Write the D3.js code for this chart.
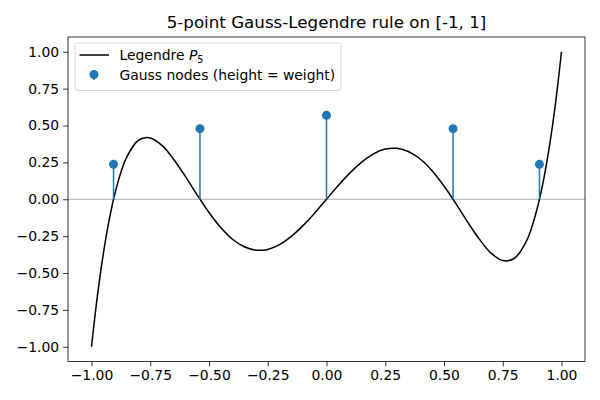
<!DOCTYPE html>
<html>
<head>
<meta charset="utf-8">
<script src="https://cdn.jsdelivr.net/npm/d3@7"></script>
<style>
  body { margin: 0; background: #fff; }
  text { font-family: "DejaVu Sans", sans-serif; }
</style>
</head>
<body>
<div id="chart"></div>
<script>
    // Legendre P5 curve
    const curveX = [-1, -0.975, -0.95, -0.925, -0.9, -0.875, -0.85, -0.8, -0.75, -0.7, -0.65, -0.6,
        -0.55, -0.5, -0.45, -0.4, -0.35, -0.3, -0.25, -0.2, -0.15, -0.1, -0.05, 0,
        0.05, 0.1, 0.15, 0.2, 0.25, 0.3, 0.35, 0.4, 0.45, 0.5, 0.55, 0.6, 0.65, 0.7,
        0.75, 0.8, 0.85, 0.875, 0.9, 0.925, 0.95, 0.975, 1]
    const curveY = [-1, -0.657, -0.373, -0.142, 0.041, 0.182, 0.286, 0.400, 0.416, 0.365, 0.270, 0.153,
        0.028, -0.090, -0.192, -0.271, -0.322, -0.345, -0.340, -0.308, -0.252, -0.179, -0.093, 0,
        0.093, 0.179, 0.252, 0.308, 0.340, 0.345, 0.322, 0.271, 0.192, 0.090, -0.028, -0.153, -0.270, -0.365,
        -0.416, -0.400, -0.286, -0.182, -0.041, 0.142, 0.373, 0.657, 1]

    // Gauss nodes and weights
    const nodes = [-0.9062, -0.5385, 0, 0.5385, 0.9062]
    const weights = [0.2369, 0.4786, 0.5689, 0.4786, 0.2369]

    const xTicks = [-1, -0.75, -0.5, -0.25, 0, 0.25, 0.5, 0.75, 1]
    const yTicks = [-1, -0.75, -0.5, -0.25, 0, 0.25, 0.5, 0.75, 1]

    const titleText = "5-point Gauss-Legendre rule on [-1, 1]"
    const blue = "#1f77b4"

    const width = 600
    const height = 400
    const mLeft = 68, mRight = 585, mTop = 37, mBottom = 361.5

    const svg = d3.select("#chart")
        .append("svg")
        .attr("width", width)
        .attr("height", height)

    const x = d3.scaleLinear().domain([-1.1, 1.1]).range([mLeft, mRight])
    const y = d3.scaleLinear().domain([-1.1, 1.1]).range([mBottom, mTop])

    // zero line
    svg.append("line")
        .attr("x1", mLeft).attr("x2", mRight)
        .attr("y1", y(0)).attr("y2", y(0))
        .style("stroke", "#999")
        .style("stroke-width", 0.8)

    // curve
    const pts = curveX.map((d, i) => [d, curveY[i]])
    const line = d3.line()
        .x(d => x(d[0]))
        .y(d => y(d[1]))
        .curve(d3.curveCatmullRom.alpha(0.5))

    svg.append("path")
        .attr("d", line(pts))
        .style("fill", "none")
        .style("stroke", "black")
        .style("stroke-width", 1.5)

    // stems
    svg.selectAll(".stem")
        .data(nodes)
        .enter()
        .append("line")
        .attr("class", "stem")
        .attr("x1", d => x(d)).attr("x2", d => x(d))
        .attr("y1", y(0))
        .attr("y2", (d, i) => y(weights[i]))
        .style("stroke", blue)
        .style("stroke-width", 1.5)

    svg.selectAll(".dot")
        .data(nodes)
        .enter()
        .append("circle")
        .attr("class", "dot")
        .attr("cx", d => x(d))
        .attr("cy", (d, i) => y(weights[i]))
        .attr("r", 4.5)
        .attr("fill", blue)

    // axes
    svg.append("g")
        .attr("transform", "translate(0," + mBottom + ")")
        .call(d3.axisBottom(x).tickValues(xTicks).tickFormat(d3.format(".2f")).tickSizeOuter(0).tickSize(4.9).tickPadding(4))
        .call(g => g.select(".domain").remove())
        .selectAll("text").style("font-size", "13.9px").attr("fill", "black")

    svg.append("g")
        .attr("transform", "translate(" + mLeft + ",0)")
        .call(d3.axisLeft(y).tickValues(yTicks).tickFormat(d3.format(".2f")).tickSizeOuter(0).tickSize(4.9).tickPadding(4))
        .call(g => g.select(".domain").remove())
        .selectAll("text").style("font-size", "13.9px").attr("fill", "black")

    svg.selectAll(".tick line").style("stroke", "black").style("stroke-width", 0.8)

    // frame
    svg.append("rect")
        .attr("x", mLeft).attr("y", mTop)
        .attr("width", mRight - mLeft).attr("height", mBottom - mTop)
        .style("fill", "none")
        .style("stroke", "black")
        .style("stroke-width", 0.8)

    // title
    svg.append("text")
        .attr("x", (mLeft + mRight) / 2)
        .attr("y", 28)
        .attr("text-anchor", "middle")
        .style("font-size", "16.7px")
        .text(titleText)

    // legend
    const lg = svg.append("g")
    lg.append("rect")
        .attr("x", 75).attr("y", 43)
        .attr("width", 266).attr("height", 47.5)
        .attr("rx", 2.5)
        .style("fill", "white").style("fill-opacity", 0.8)
        .style("stroke", "#cccccc").style("stroke-width", 0.8)

    lg.append("line")
        .attr("x1", 79.5).attr("x2", 109)
        .attr("y1", 55).attr("y2", 55)
        .style("stroke", "black").style("stroke-width", 1.5)

    const t1 = lg.append("text").attr("x", 119.5).attr("y", 60).style("font-size", "13.9px")
    t1.append("tspan").text("Legendre ")
    t1.append("tspan").style("font-style", "italic").text("P")
    t1.append("tspan").style("font-size", "9.7px").attr("dy", 2.5).text("5")

    lg.append("line")
        .attr("x1", 94).attr("x2", 94)
        .attr("y1", 74.5).attr("y2", 80)
        .style("stroke", blue).style("stroke-width", 1.5)
    lg.append("circle")
        .attr("cx", 94).attr("cy", 74.5).attr("r", 4.5)
        .attr("fill", blue)

    lg.append("text").attr("x", 119.5).attr("y", 80).style("font-size", "13.9px")
        .text("Gauss nodes (height = weight)")
</script>
</body>
</html>
